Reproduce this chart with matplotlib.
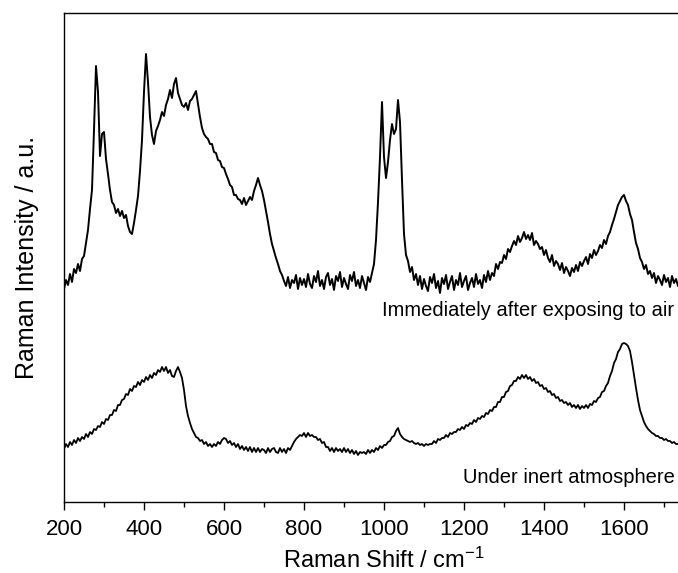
import numpy as np
import matplotlib
matplotlib.use("Agg")
import matplotlib.pyplot as plt
from matplotlib.ticker import MultipleLocator

plt.rcParams['font.family'] = ['Liberation Sans', 'DejaVu Sans']
plt.rcParams['mathtext.default'] = 'regular'

# Raman shift grid (cm^-1), 5 cm^-1 spacing
shift = np.arange(200, 1745, 5)

# Spectrum recorded right after air exposure (arbitrary units)
air_exposed = [
    213, 222, 217, 228, 220, 233, 229, 238, 231, 243, 246, 259, 272, 293, 312, 372, 436, 410, 346, 368,
    370, 343, 328, 312, 300, 297, 289, 293, 286, 291, 284, 287, 276, 270, 268, 279, 292, 306, 331, 362,
    410, 448, 420, 385, 367, 358, 371, 376, 382, 390, 386, 397, 403, 412, 404, 418, 424, 409, 403, 397,
    395, 399, 392, 401, 403, 407, 411, 398, 385, 374, 368, 365, 363, 358, 358, 350, 349, 342, 341, 335,
    334, 328, 323, 317, 315, 307, 307, 303, 302, 298, 304, 297, 301, 305, 302, 311, 317, 324, 317, 311,
    302, 291, 280, 268, 258, 251, 244, 238, 231, 227, 221, 216, 225, 214, 222, 219, 227, 213, 224, 217,
    223, 215, 228, 218, 214, 226, 220, 231, 216, 222, 213, 225, 229, 217, 223, 212, 226, 221, 230, 215,
    224, 218, 213, 227, 221, 230, 216, 222, 214, 226, 219, 212, 225, 220, 229, 238, 262, 300, 345, 400,
    345, 324, 340, 362, 378, 368, 373, 402, 380, 322, 268, 247, 241, 230, 235, 222, 228, 217, 226, 213,
    223, 216, 211, 225, 219, 228, 214, 221, 209, 224, 218, 227, 213, 220, 226, 212, 222, 217, 229, 215,
    221, 226, 212, 219, 224, 215, 228, 218, 222, 214, 227, 220, 231, 222, 229, 226, 238, 233, 240, 239,
    247, 243, 253, 250, 256, 261, 257, 266, 260, 264, 270, 263, 267, 262, 269, 257, 261, 258, 253, 255,
    247, 252, 244, 240, 247, 236, 241, 238, 232, 239, 229, 235, 231, 226, 234, 230, 237, 231, 240, 236,
    241, 245, 238, 248, 244, 252, 247, 251, 257, 254, 262, 258, 266, 270, 277, 283, 290, 297, 301, 305,
    307, 301, 297, 288, 282, 270, 259, 253, 244, 240, 233, 237, 228, 231, 224, 229, 219, 226, 222, 217,
    227, 220, 224, 215, 226, 219, 223, 216, 222,
]

# Spectrum recorded under inert atmosphere (arbitrary units)
inert = [
    53, 58, 55, 60, 57, 62, 59, 64, 61, 65, 63, 68, 65, 70, 68, 73, 72, 76, 75, 80,
    78, 83, 82, 87, 87, 92, 91, 97, 97, 102, 103, 108, 107, 113, 111, 116, 115, 120, 117, 122,
    120, 125, 122, 127, 124, 129, 127, 132, 130, 135, 131, 135, 129, 132, 126, 125, 131, 135, 130, 124,
    112, 96, 86, 79, 73, 69, 65, 64, 61, 62, 58, 60, 56, 58, 55, 58, 56, 60, 58, 62,
    64, 63, 59, 61, 57, 59, 55, 58, 53, 56, 52, 55, 51, 55, 50, 54, 50, 54, 50, 53,
    52, 49, 54, 50, 53, 54, 50, 49, 54, 50, 53, 49, 54, 52, 56, 60, 63, 65, 67, 66,
    69, 65, 69, 66, 67, 65, 65, 62, 63, 59, 60, 55, 55, 51, 54, 50, 54, 51, 53, 50,
    54, 50, 53, 49, 52, 48, 51, 47, 50, 49, 50, 48, 52, 49, 52, 50, 54, 52, 56, 54,
    57, 57, 60, 61, 65, 66, 71, 74, 68, 65, 63, 62, 61, 60, 61, 59, 58, 59, 57, 58,
    56, 58, 57, 58, 58, 61, 59, 63, 62, 64, 64, 67, 65, 69, 68, 70, 70, 73, 72, 75,
    73, 77, 76, 79, 78, 82, 80, 84, 83, 86, 85, 89, 88, 92, 91, 95, 95, 100, 100, 105,
    105, 110, 111, 116, 117, 121, 121, 125, 123, 127, 124, 127, 123, 125, 121, 123, 119, 120, 116, 117,
    113, 114, 110, 111, 107, 108, 104, 105, 101, 102, 99, 100, 97, 99, 95, 97, 94, 97, 93, 96,
    94, 97, 94, 98, 97, 101, 100, 104, 105, 110, 111, 116, 119, 126, 131, 139, 143, 150, 153, 158,
    159, 158, 156, 151, 140, 127, 114, 102, 92, 86, 80, 76, 73, 71, 69, 68, 66, 66, 64, 64,
    62, 63, 61, 61, 59, 60, 58, 58, 57,
]

major_ticks = [200, 400, 600, 800, 1000, 1200, 1400, 1600]

trace_labels = ["Immediately after exposing to air", "Under inert atmosphere"]
label_x = [995, 1197]
label_y = [186, 19]

fig = plt.figure(figsize=(6.78, 5.73), dpi=100)
ax = fig.add_axes([64 / 678, 71 / 573, 640 / 678, 489 / 573])

ax.plot(shift, air_exposed, color='black', lw=1.4)
ax.plot(shift, inert, color='black', lw=1.3)

for txt, tx, ty in zip(trace_labels, label_x, label_y):
    ax.text(tx, ty, txt, fontsize=14.5, ha='left', va='baseline', color='black')

ax.set_xlim(200, 1800)
ax.set_ylim(0, 489)
ax.set_xticks(major_ticks)
ax.xaxis.set_minor_locator(MultipleLocator(100))
ax.set_yticks([])
ax.tick_params(axis='x', which='major', direction='out', length=6, width=1.0,
               labelsize=16, pad=6, top=False)
ax.tick_params(axis='x', which='minor', direction='out', length=3.5, width=1.0, top=False)
for sp in ax.spines.values():
    sp.set_linewidth(1.0)

ax.set_xlabel(r'Raman Shift / cm$^{-1}$', fontsize=17, labelpad=6)
ax.set_ylabel('Raman Intensity / a.u.', fontsize=18, labelpad=18)

fig.savefig('out.png', dpi=100)
